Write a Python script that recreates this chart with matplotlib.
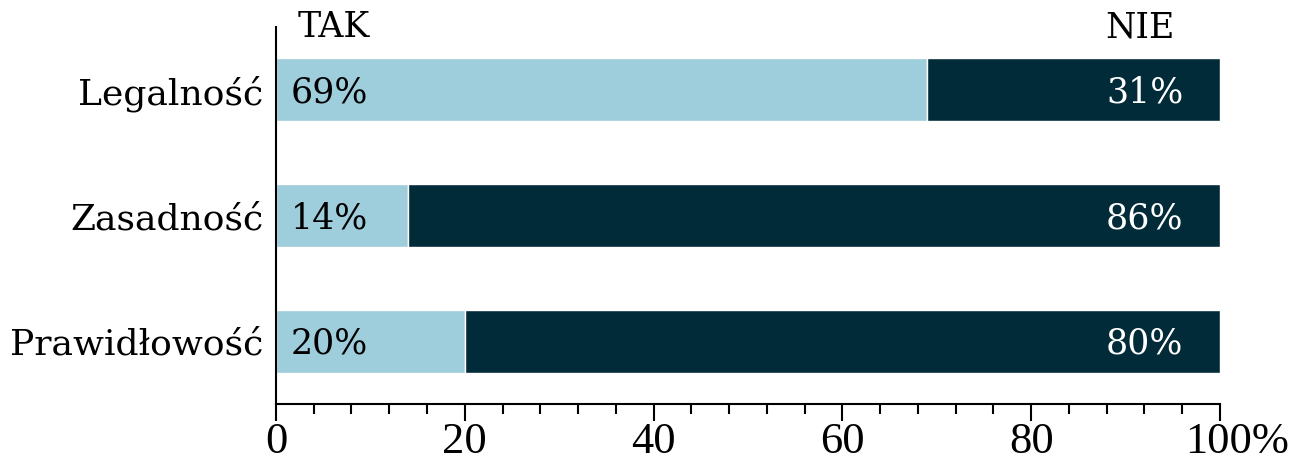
import matplotlib.pyplot as plt
from matplotlib.ticker import MultipleLocator
from matplotlib.transforms import ScaledTranslation

# dane
kategorie = ['Legalność', 'Zasadność', 'Prawidłowość']
tak = [69, 14, 20]
nie = [31, 86, 80]
osie_x = [0, 20, 40, 60, 80, 100]
osie_x_etykiety = ['0', '20', '40', '60', '80', '100%']

kolor_tak = '#9ECDDC'
kolor_nie = '#022B3A'

plt.rcParams['font.family'] = ['DejaVu Serif']

fig = plt.figure(figsize=(13.03, 4.69), dpi=100)
ax = fig.add_axes([0.2118, 0.1386, 0.7245, 0.8038])

y = range(len(kategorie))
ax.barh(y, tak, height=0.5, color=kolor_tak, edgecolor='white', linewidth=1)
ax.barh(y, nie, left=tak, height=0.5, color=kolor_nie, edgecolor='white', linewidth=1)

# etykiety procentowe
for i in y:
    ax.text(1.6, i + 0.02, f'{tak[i]}%', ha='left', va='center', fontsize=25, color='black')
    ax.text(96.1, i + 0.02, f'{nie[i]}%', ha='right', va='center', fontsize=25, color='white')

ax.text(2.3, -0.5, 'TAK', ha='left', va='center', fontsize=25)
ax.text(95.2, -0.5, 'NIE', ha='right', va='center', fontsize=25)

ax.set_xlim(0, 100)
ax.set_ylim(2.5, -0.5)
ax.set_yticks(list(y))
ax.set_yticklabels(kategorie, fontsize=26)
ax.tick_params(axis='y', length=0, pad=9)

ax.set_xticks(osie_x)
ax.set_xticklabels(osie_x_etykiety, family='Liberation Serif', fontsize=32)
ax.xaxis.set_minor_locator(MultipleLocator(4))
ax.tick_params(axis='x', which='major', length=12, width=1.5, pad=1)
ax.tick_params(axis='x', which='minor', length=7, width=1.5)

for s in ['top', 'right']:
    ax.spines[s].set_visible(False)
for s in ['left', 'bottom']:
    ax.spines[s].set_linewidth(1.5)

# "100" wyśrodkowane na znaczniku, "%" dopisany z prawej
fig.canvas.draw()
ost = ax.get_xticklabels()[-1]
ost.set_transform(ost.get_transform() + ScaledTranslation(0.17, 0, fig.dpi_scale_trans))

fig.savefig('out.png', dpi=100)
